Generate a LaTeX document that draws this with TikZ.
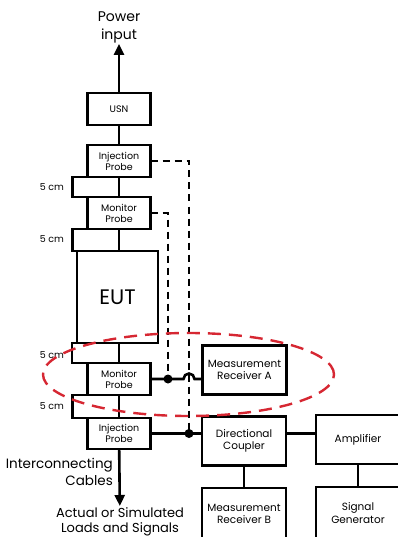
\documentclass[tikz,border=0pt]{standalone}
\usepackage{fontspec}
\setmainfont{Poppins}
\usetikzlibrary{arrows.meta}
\usetikzlibrary{positioning}
\definecolor{zonered}{RGB}{214,39,50}

\begin{document}
\begin{tikzpicture}[x=1pt,y=-1pt,
	box/.style={draw,line width=2.6pt,outer sep=0pt,inner sep=1pt,align=center,
		minimum width=63,minimum height=32,font=\fontsize{9.5}{11}\selectfont},
	bigbox/.style={box,minimum width=84,minimum height=49,font=\fontsize{10.5}{12.5}\selectfont},
	wire/.style={line width=2.6pt},
	probeline/.style={line width=2.4pt,dash pattern=on 7pt off 5pt},
	zone/.style={draw=zonered,line width=2.4pt,dash pattern=on 13pt off 8pt},
	lbl/.style={inner sep=1pt,font=\fontsize{9.5}{11}\selectfont},
	txt/.style={inner sep=1pt,align=center,font=\fontsize{13.5}{16.5}\selectfont},
	dot/.style={circle,fill,inner sep=0pt,minimum size=9pt}]

	\useasboundingbox (0,0) rectangle (398,537);

	\node[txt,font=\fontsize{14}{18}\selectfont] (power) at (119,27) {Power\\input};
	\node[box] (usn) at (119,109) {USN};
	\node[box] (inj1) at (119,161) {Injection\\Probe};
	\node[box] (mon1) at (119,213) {Monitor\\Probe};
	\node[box,minimum width=81,minimum height=92,font=\fontsize{21}{24}\selectfont] (eut) at (117.5,297) {EUT};
	\node[box] (mon2) at (119,379) {Monitor\\Probe};
	\node[box,minimum height=31] (inj2) at (119,433.5) {Injection\\Probe};

	\node[bigbox] (mra) at (244.5,370) {Measurement\\Receiver A};
	\node[bigbox] (dc) at (244,441) {Directional\\Coupler};
	\node[bigbox] (amp) at (358,439.5) {Amplifier};
	\node[bigbox,minimum height=52] (mrb) at (244,514) {Measurement\\Receiver B};
	\node[bigbox,minimum height=52] (sg) at (358,513) {Signal\\Generator};

	\node[txt,anchor=east,align=right] (cables) at (114,472) {Interconnecting\\Cables};
	\node[txt,anchor=north,font=\fontsize{13}{15.5}\selectfont] (loads) at (120,506) {Actual or Simulated\\Loads and Signals};

	\node[lbl] (d1) at (52,187) {5 cm};
	\node[lbl] (d2) at (52,239) {5 cm};
	\node[lbl] (d3) at (52,355) {5 cm};
	\node[lbl] (d4) at (52,406) {5 cm};

	\coordinate (ja) at (168,379);
	\coordinate (jb) at (189,433.5);

	\draw[wire,-{Triangle[length=11pt,width=10pt]}] (usn) -- (power);
	\draw[wire] (usn) -- (inj1);
	\draw[wire] (inj1) -- (mon1);
	\draw[wire] (mon1.south) -- (mon1.south |- eut.north);
	\draw[wire] (mon2.north |- eut.south) -- (mon2.north);
	\draw[wire] (mon2) -- (inj2);
	\draw[wire,-{Triangle[length=11pt,width=10pt]}] (inj2) -- (loads);

	\draw[wire] (inj1.south west) -- ++(-15,0) |- (mon1.north west);
	\draw[wire] (mon1.south west) -- ++(-15,0) |- (eut.north west);
	\draw[wire] (eut.south west) -- ++(-5,0) |- (mon2.north west);
	\draw[wire] (mon2.south west) -- ++(-15,0) |- (inj2.north west);

	\draw[probeline] (inj1.east) -| (jb);
	\draw[probeline] (mon1.east) -| (ja);

	\draw[wire] (mon2.east) -- ([xshift=-5.5pt]jb |- mon2.east)
		arc[start angle=180,end angle=0,radius=5.5pt] -- (mra.west |- mon2.east);
	\draw[wire] (inj2.east) -- (dc.west |- inj2.east);
	\draw[wire] (dc.east |- inj2.east) -- (amp.west |- inj2.east);
	\draw[wire] (dc) -- (mrb);
	\draw[wire] (amp) -- (sg);

	\node[dot] (dota) at (ja) {};
	\node[dot] (dotb) at (jb) {};

	\draw[zone] (188.5,374.5) ellipse [x radius=145.5pt,y radius=41.5pt];
\end{tikzpicture}
\end{document}
